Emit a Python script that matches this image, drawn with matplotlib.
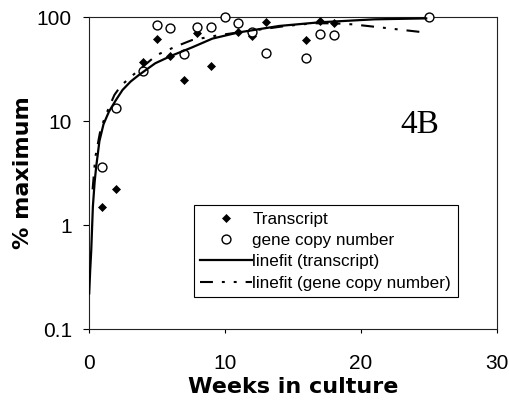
import matplotlib
matplotlib.use("Agg")
import matplotlib.pyplot as plt
from matplotlib.lines import Line2D

# transcript (diamonds), weeks vs % maximum
transcript_weeks = [1, 2, 4, 5, 6, 7, 8, 9, 11, 12, 13, 16, 17, 18]
transcript_pct = [1.5, 2.2, 37, 61, 42, 25, 70, 34, 72, 65, 89, 60, 91, 87]

# gene copy number (open circles)
gene_weeks = [1, 2, 4, 5, 6, 7, 8, 9, 10, 11, 12, 13, 16, 17, 18, 25]
gene_pct = [3.6, 13.2, 30, 84, 78, 44, 80, 81, 100, 87, 72, 45, 40.6, 69, 67.6, 101]

# fit lines
fit_tr_weeks = [0.05, 0.12, 0.2, 0.32, 0.45, 0.56, 0.8, 1.1, 1.5, 2.0, 2.5, 3.1, 3.7, 4.9,
                6.1, 7.6, 9.1, 11, 14, 17, 21, 24.8]
fit_tr_pct = [0.22, 0.36, 0.57, 1.5, 2.6, 3.6, 6.4, 9.3, 12.3, 15.8, 19.9, 24, 27.7, 35.9,
              42.5, 51, 62, 71, 82, 89, 95, 97]

fit_gene_weeks = [0.3, 0.5, 0.9, 1.45, 1.9, 2.4, 3.5, 5.0, 6.4, 7.6, 9.6, 12, 14.5, 16.5,
                  18, 19.4, 21.6, 24.3]
fit_gene_pct = [2.2, 4.5, 8.5, 13, 17.8, 22, 29.4, 43, 52, 60, 67, 74, 82, 87,
                87, 85, 79, 72]

yticks = [0.1, 1, 10, 100]
ytick_labels = ["0.1", "1", "10", "100"]
xticks = [0, 10, 20, 30]

fig = plt.figure(figsize=(5.09, 4.03), dpi=100)
ax = fig.add_axes([0.1739, 0.1836, 0.8025, 0.7742])

gene_dash = (0, (6.2, 4.3, 1.4, 4.3, 1.4, 4.3))

ax.plot(transcript_weeks, transcript_pct, linestyle="none", marker="D", ms=3.6,
        mfc="black", mec="black", mew=0.5, zorder=3, clip_on=False)
ax.plot(gene_weeks, gene_pct, linestyle="none", marker="o", ms=6.4,
        mfc="white", mec="black", mew=1.0, zorder=4, clip_on=False)
ax.plot(fit_tr_weeks, fit_tr_pct, color="black", lw=1.6, zorder=5)
ax.plot(fit_gene_weeks, fit_gene_pct, color="black", lw=1.5, linestyle=gene_dash, zorder=5)

ax.set_yscale("log")
ax.set_ylim(0.1, 100)
ax.set_xlim(0, 30)
ax.set_yticks(yticks)
ax.set_yticklabels(ytick_labels)
ax.yaxis.set_minor_locator(matplotlib.ticker.NullLocator())
ax.set_xticks(xticks)

for s in ax.spines.values():
    s.set_linewidth(0.8)
    s.set_color("#222222")

ax.tick_params(axis="y", direction="out", length=4, width=0.8, pad=8,
               labelsize=15, colors="black")
ax.tick_params(axis="x", direction="out", length=3, width=0.8, pad=15,
               labelsize=15, colors="black")
for lab in ax.get_xticklabels() + ax.get_yticklabels():
    lab.set_family("Liberation Sans")

ax.set_xlabel("Weeks in culture", fontsize=16, fontweight="bold",
              family="DejaVu Sans", labelpad=3)
ax.set_ylabel("% maximum", fontsize=16, fontweight="bold",
              family="DejaVu Sans", labelpad=3)

ax.text(0.81, 0.655, "4B", transform=ax.transAxes, fontsize=24,
        family="Liberation Serif", ha="center", va="center")

handles = [
    Line2D([], [], linestyle="none", marker="D", ms=3.6, mfc="black", mec="black", mew=0.5),
    Line2D([], [], linestyle="none", marker="o", ms=6.4, mfc="white", mec="black", mew=1.0),
    Line2D([], [], color="black", lw=1.6),
    Line2D([], [], color="black", lw=1.5, linestyle=gene_dash),
]
labels = ["Transcript", "gene copy number", "linefit (transcript)",
          "linefit (gene copy number)"]
leg = ax.legend(handles, labels, loc="upper left", bbox_to_anchor=(0.258, 0.397),
                borderaxespad=0, fancybox=False, framealpha=1, edgecolor="black",
                prop={"family": "Liberation Sans", "size": 12.3},
                handlelength=3.0, handletextpad=0.05, labelspacing=0.37,
                borderpad=0.38)
leg.get_frame().set_linewidth(0.8)

fig.savefig("out.png", dpi=100)
